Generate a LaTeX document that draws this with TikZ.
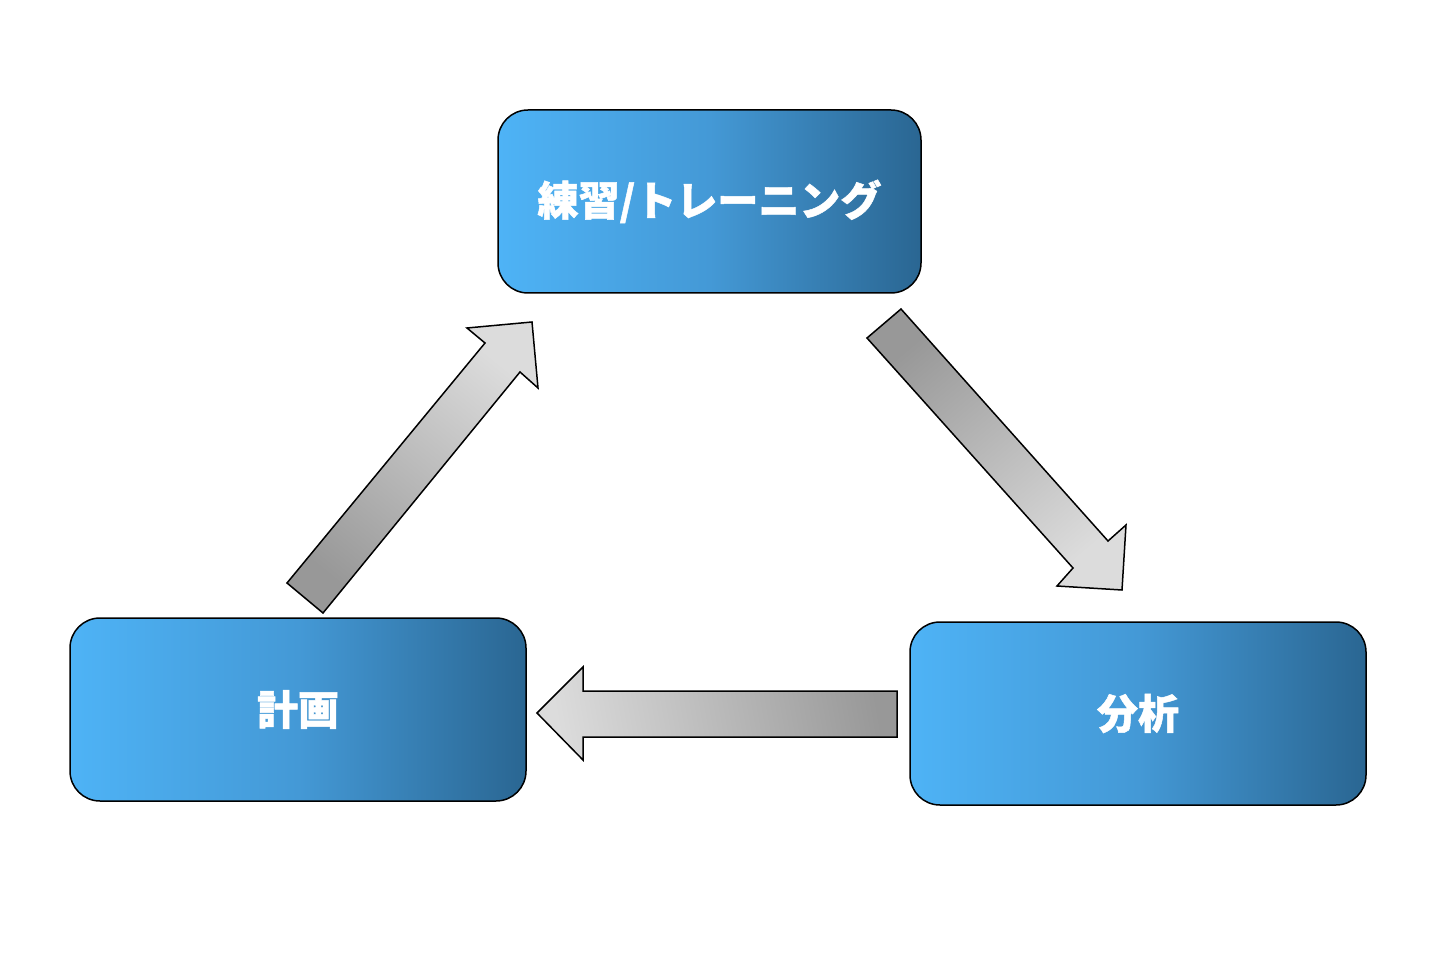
\documentclass[tikz,border=0pt]{standalone}
\usepackage{fontspec}
\newfontfamily\cjk{Noto Sans CJK JP}[BoldFeatures={FakeBold=1.2}]
\definecolor{blueL}{HTML}{4EB3F6}
\definecolor{blueM}{HTML}{4499D6}
\definecolor{blueR}{HTML}{2A6692}
\definecolor{grayD}{HTML}{989898}
\definecolor{grayL}{HTML}{DCDCDC}
\tikzset{
  stagebox/.style={draw=black, line width=1.5pt, rounded corners=30pt,
    left color=blueL, right color=blueR, middle color=blueM,
    minimum width=#1, minimum height=183pt, inner sep=0pt,
    text=white, font=\cjk\bfseries\fontsize{41}{43}\selectfont},
  blockarrow/.style={draw=black, line width=1.5pt, line join=miter,
    top color=grayL, bottom color=grayD, shading angle=#1},
}
\begin{document}
\begin{tikzpicture}[x=1pt,y=-1pt]
\useasboundingbox (0,0) rectangle (1446,957);
\node[stagebox=423pt] (train) at (709.5,201.5) {練習/トレーニング};
\node[stagebox=456pt] (plan) at (298,709.5) {計画};
\node[stagebox=456pt] (anal) at (1138,713.5) {分析};
% plan -> training
\draw[blockarrow=-39] (287,583) -- (485,343) -- (467,328) -- (532,322) -- (538,388) -- (520,372) -- (323,613) -- cycle;
% training -> analysis
\draw[blockarrow=-140] (867,338) -- (901,309) -- (1108,541) -- (1126,525) -- (1122,590) -- (1057,586) -- (1073,568) -- cycle;
% analysis -> plan
\draw[blockarrow=100] (537,713) -- (583,667) -- (583,691) -- (897,691) -- (897,737) -- (583,737) -- (583,760) -- cycle;
\end{tikzpicture}
\end{document}
